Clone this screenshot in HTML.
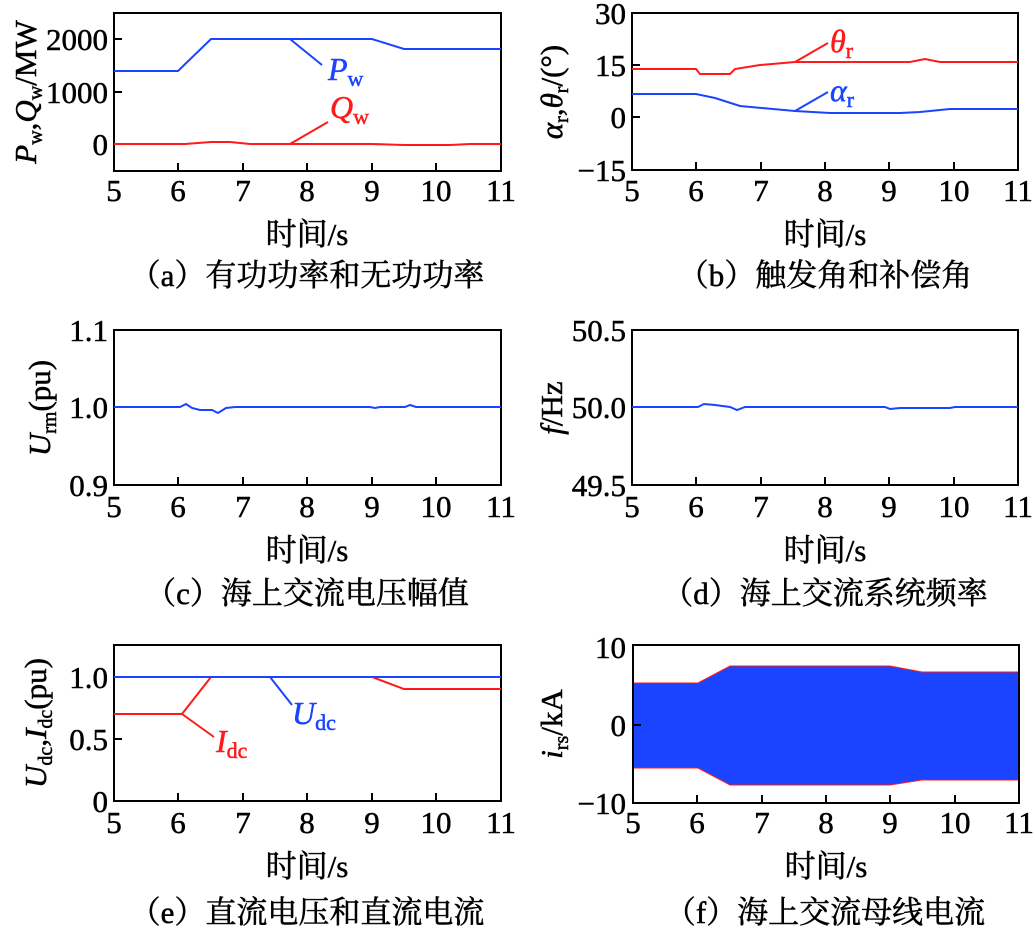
<!DOCTYPE html>
<html><head><meta charset="utf-8"><style>
body{margin:0;background:#fff}
svg{display:block}
text{font-family:"Liberation Serif","Noto Serif CJK SC",serif;fill:#000;stroke:#000;stroke-width:0.5}
.t{font-size:31px}
.c{font-size:31px;font-family:"Liberation Serif","Noto Serif CJK SC",serif}
</style></head><body>
<svg width="1035" height="935" viewBox="0 0 1035 935" xmlns="http://www.w3.org/2000/svg">
<g fill="none" stroke-width="2">
<rect x="114" y="13" width="387" height="158" stroke="#000"/>
<path d="M114,39h8M114,92h8M114,144h8M178,171v-8M243,171v-8M307,171v-8M372,171v-8M436,171v-8" stroke="#000"/>
<path d="M114,71H178L211,39H372L404,49H501" stroke="#1a44ff"/>
<path d="M290,39L322,65" stroke="#1a44ff"/>
<path d="M114,144H185L211,142H230L250,144H372L404,145H450L470,144H501" stroke="#ff1a1a"/>
<path d="M290,144L328,122" stroke="#ff1a1a"/>
<rect x="632" y="13" width="386" height="157" stroke="#000"/>
<path d="M632,65h8M632,117h8M696,170v-8M761,170v-8M825,170v-8M889,170v-8M954,170v-8" stroke="#000"/>
<path d="M632,69H696L700,74H730L735,69L760,65L795,62H910L925,59L940,62H1018" stroke="#ff1a1a"/>
<path d="M795,62L828,43" stroke="#ff1a1a"/>
<path d="M632,94H696L715,98L740,106L795,111L830,113H900L920,112L950,109H1018" stroke="#1a44ff"/>
<path d="M795,111L828,92" stroke="#1a44ff"/>
<rect x="114" y="330" width="387" height="155" stroke="#000"/>
<path d="M114,407h8M178,485v-8M243,485v-8M307,485v-8M372,485v-8M436,485v-8" stroke="#000"/>
<path d="M114,407H180L186,404L192,408L200,410L212,410L218,413L226,408L235,407H370L375,408L380,407H405L410,405L416,407H501" stroke="#1a44ff"/>
<rect x="632" y="330" width="386" height="155" stroke="#000"/>
<path d="M632,407h8M696,485v-8M761,485v-8M825,485v-8M889,485v-8M954,485v-8" stroke="#000"/>
<path d="M632,407H698L704,404L715,405L730,407L737,410L745,407H885L890,409L900,408H950L955,407H1018" stroke="#1a44ff"/>
<rect x="114" y="645" width="387" height="156" stroke="#000"/>
<path d="M114,677h8M114,739h8M178,801v-8M243,801v-8M307,801v-8M372,801v-8M436,801v-8" stroke="#000"/>
<path d="M114,714H182L211,677H372L404,689H501" stroke="#ff1a1a"/>
<path d="M182,714L214,737" stroke="#ff1a1a"/>
<path d="M114,677H501" stroke="#1a44ff"/>
<path d="M270,677L292,705" stroke="#1a44ff"/>
<path d="M633,683L698,683L730,666L890,666L922,672L1019,672L1019,780L922,780L890,785L730,785L698,768L633,768Z" fill="#1a44ff" stroke="none"/>
<path d="M633,683H698L730,666H890L922,672H1019M633,768H698L730,785H890L922,780H1019" stroke="#ff1a1a" stroke-width="1"/>
<rect x="633" y="645" width="386" height="158" stroke="#000"/>
<path d="M633,725h8M697,803v-8M762,803v-8M826,803v-8M890,803v-8M955,803v-8" stroke="#000"/>
</g>
<g class="t" text-anchor="middle">
<text x="114" y="201">5</text><text x="178" y="201">6</text><text x="243" y="201">7</text><text x="307" y="201">8</text><text x="372" y="201">9</text><text x="436" y="201">10</text><text x="501" y="201">11</text>
<text x="632" y="201">5</text><text x="696" y="201">6</text><text x="761" y="201">7</text><text x="825" y="201">8</text><text x="889" y="201">9</text><text x="954" y="201">10</text><text x="1018" y="201">11</text>
<text x="114" y="517">5</text><text x="178" y="517">6</text><text x="243" y="517">7</text><text x="307" y="517">8</text><text x="372" y="517">9</text><text x="436" y="517">10</text><text x="501" y="517">11</text>
<text x="632" y="517">5</text><text x="696" y="517">6</text><text x="761" y="517">7</text><text x="825" y="517">8</text><text x="889" y="517">9</text><text x="954" y="517">10</text><text x="1018" y="517">11</text>
<text x="114" y="833">5</text><text x="178" y="833">6</text><text x="243" y="833">7</text><text x="307" y="833">8</text><text x="372" y="833">9</text><text x="436" y="833">10</text><text x="501" y="833">11</text>
<text x="633" y="833">5</text><text x="697" y="833">6</text><text x="762" y="833">7</text><text x="826" y="833">8</text><text x="890" y="833">9</text><text x="955" y="833">10</text><text x="1019" y="833">11</text>
</g>
<g class="t" text-anchor="end">
<text x="108" y="50">2000</text><text x="108" y="103">1000</text><text x="108" y="155">0</text>
<text x="626" y="24">30</text><text x="626" y="76">15</text><text x="626" y="128">0</text><text x="626" y="181">−15</text>
<text x="108" y="341">1.1</text><text x="108" y="418">1.0</text><text x="108" y="496">0.9</text>
<text x="626" y="341">50.5</text><text x="626" y="418">50.0</text><text x="626" y="496">49.5</text>
<text x="108" y="688">1.0</text><text x="108" y="750">0.5</text><text x="108" y="812">0</text>
<text x="626" y="658">10</text><text x="626" y="736">0</text><text x="626" y="814">−10</text>
</g>
<text x="328" y="80" font-size="32" font-style="italic" style="fill:#1a44ff;stroke:#1a44ff">P<tspan font-size="22" font-style="normal" dy="6">w</tspan></text>
<text x="330" y="118" font-size="32" font-style="italic" style="fill:#ff1a1a;stroke:#ff1a1a">Q<tspan font-size="22" font-style="normal" dy="6">w</tspan></text>
<text x="830" y="52" font-size="32" font-style="italic" style="fill:#ff1a1a;stroke:#ff1a1a">θ<tspan font-size="22" font-style="normal" dy="6">r</tspan></text>
<text x="830" y="101" font-size="32" font-style="italic" style="fill:#1a44ff;stroke:#1a44ff">α<tspan font-size="22" font-style="normal" dy="6">r</tspan></text>
<text x="216" y="752" font-size="32" font-style="italic" style="fill:#ff1a1a;stroke:#ff1a1a">I<tspan font-size="22" font-style="normal" dy="6">dc</tspan></text>
<text x="292" y="724" font-size="32" font-style="italic" style="fill:#1a44ff;stroke:#1a44ff">U<tspan font-size="22" font-style="normal" dy="6">dc</tspan></text>
<g class="t" text-anchor="middle">
<text transform="translate(36,92) rotate(-90)"><tspan font-style="italic">P</tspan><tspan font-size="20" dy="6">w</tspan><tspan dy="-6">,</tspan><tspan font-style="italic">Q</tspan><tspan font-size="20" dy="6">w</tspan><tspan dy="-6">/MW</tspan></text>
<text transform="translate(562,92) rotate(-90)"><tspan font-style="italic">α</tspan><tspan font-size="20" dy="6">r</tspan><tspan dy="-6">,</tspan><tspan font-style="italic">θ</tspan><tspan font-size="20" dy="6">r</tspan><tspan dy="-6">/(°)</tspan></text>
<text transform="translate(50,408) rotate(-90)"><tspan font-style="italic">U</tspan><tspan font-size="20" dy="6">rm</tspan><tspan dy="-6">(pu)</tspan></text>
<text transform="translate(562,408) rotate(-90)"><tspan font-style="italic">f</tspan>/Hz</text>
<text transform="translate(46,723) rotate(-90)"><tspan font-style="italic">U</tspan><tspan font-size="20" dy="6">dc</tspan><tspan dy="-6">,</tspan><tspan font-style="italic">I</tspan><tspan font-size="20" dy="6">dc</tspan><tspan dy="-6">(pu)</tspan></text>
<text transform="translate(562,724) rotate(-90)"><tspan font-style="italic">i</tspan><tspan font-size="20" dy="6">rs</tspan><tspan dy="-6">/kA</tspan></text>
</g>
<g class="c" text-anchor="middle">
<text x="307" y="245">时间/s</text><text x="825" y="245">时间/s</text>
<text x="307" y="561">时间/s</text><text x="825" y="561">时间/s</text>
<text x="307" y="877">时间/s</text><text x="826" y="877">时间/s</text>
<text x="307" y="286">（a）有功功率和无功功率</text>
<text x="825" y="286">（b）触发角和补偿角</text>
<text x="307" y="604">（c）海上交流电压幅值</text>
<text x="825" y="604">（d）海上交流系统频率</text>
<text x="307" y="923">（e）直流电压和直流电流</text>
<text x="825" y="923">（f）海上交流母线电流</text>
</g>
</svg>
</body></html>
